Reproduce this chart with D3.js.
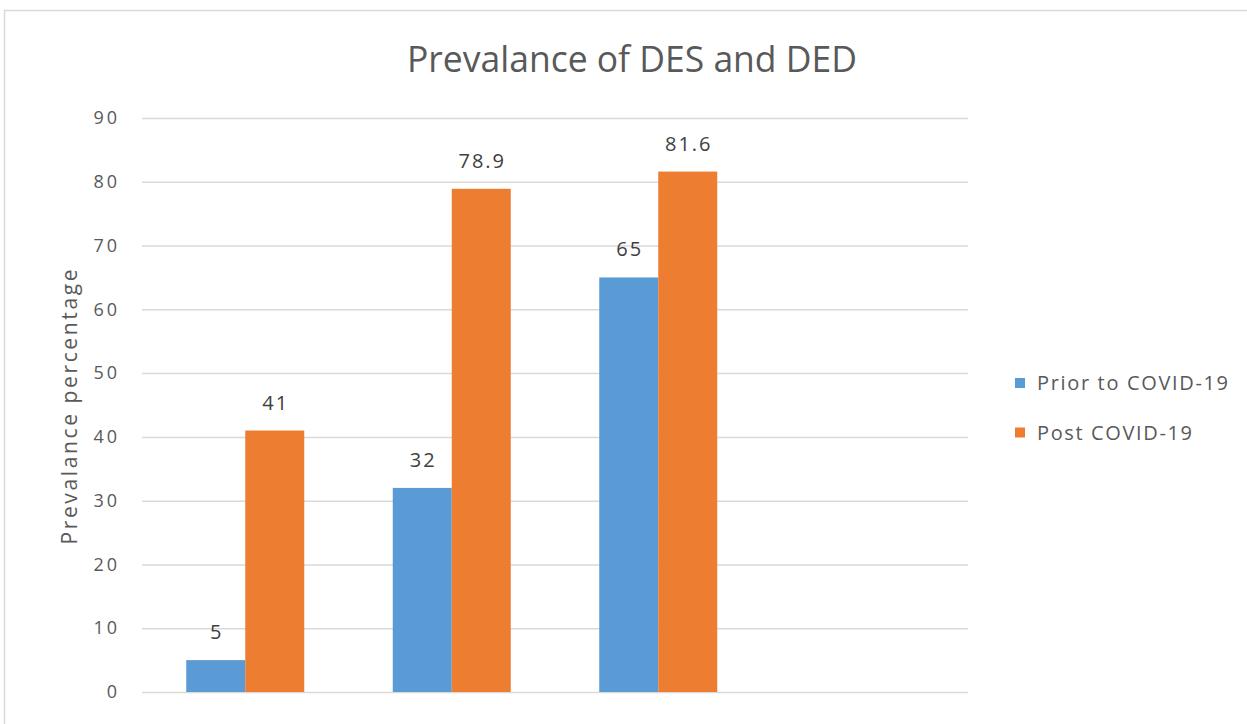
<!DOCTYPE html>
<html>
<head>
<meta charset="utf-8">
<script src="https://cdn.jsdelivr.net/npm/d3@7"></script>
<style>
  body { margin: 0; background: #fff; }
  svg { display: block; }
</style>
</head>
<body>
<svg></svg>
<script>
const categories = ['A', 'B', 'C', 'D'];
const seriesNames = ['Prior to COVID-19', 'Post COVID-19'];
const priorValues = [5, 32, 65, null];
const postValues = [41, 78.9, 81.6, null];
const yTicks = [0, 10, 20, 30, 40, 50, 60, 70, 80, 90];
const colors = ['#5b9bd5', '#ed7d31'];

const width = 1247, height = 724;
const margin = {left: 142, right: 279, top: 118, bottom: 32};
const font = "'Open Sans', 'Liberation Sans', sans-serif";

let svg = d3.select('svg')
  .attr('width', width)
  .attr('height', height);

// chart frame
svg.append('rect')
  .attr('x', 4.5)
  .attr('y', 10.5)
  .attr('width', width + 20)
  .attr('height', height + 20)
  .attr('fill', '#fff')
  .attr('stroke', '#d9d9d9')
  .attr('stroke-width', 1.5);

let x = d3.scaleBand()
  .domain(categories)
  .range([margin.left, width - margin.right]);

let xs = d3.scaleBand()
  .domain(seriesNames)
  .range([0, x.bandwidth()])
  .paddingOuter(0.75);

let y = d3.scaleLinear()
  .domain([0, 90])
  .range([height - margin.bottom, margin.top]);

// gridlines + tick labels
let yAxis = d3.axisLeft(y)
  .tickValues(yTicks)
  .tickSize(-(width - margin.right - margin.left))
  .tickPadding(22);

let gy = svg.append('g')
  .attr('transform', `translate(${margin.left},0)`)
  .call(yAxis);
gy.select('.domain').remove();
gy.selectAll('.tick line')
  .attr('stroke', '#d9d9d9')
  .attr('stroke-width', 1.5);
gy.selectAll('.tick text')
  .attr('fill', '#595959')
  .style('font', `18px ${font}`)
  .style('letter-spacing', '3px');

let table = categories.map((c, i) => ({cat: c, vals: [priorValues[i], postValues[i]]}));

let groups = svg.append('g').selectAll('g')
  .data(table)
  .join('g')
  .attr('transform', d => `translate(${x(d.cat)},0)`);

let bars = groups.selectAll('g')
  .data(d => d.vals.map((v, j) => ({name: seriesNames[j], v: v, j: j})).filter(e => e.v !== null))
  .join('g');

bars.append('rect')
  .attr('x', d => xs(d.name))
  .attr('width', xs.bandwidth())
  .attr('y', d => y(d.v))
  .attr('height', d => y(0) - y(d.v))
  .attr('fill', d => colors[d.j]);

bars.append('text')
  .attr('x', d => xs(d.name) + xs.bandwidth() / 2 + 1)
  .attr('y', d => y(d.v) - 21)
  .attr('text-anchor', 'middle')
  .attr('fill', '#404040')
  .style('font', `20px ${font}`)
  .style('letter-spacing', '2px')
  .text(d => d.v);

// title
svg.append('text')
  .attr('x', 632)
  .attr('y', 72)
  .attr('text-anchor', 'middle')
  .attr('fill', '#595959')
  .attr('textLength', 450)
  .attr('lengthAdjust', 'spacingAndGlyphs')
  .style('font', `37px ${font}`)
  .text('Prevalance of DES and DED');

// y axis title
svg.append('text')
  .attr('transform', 'translate(77,407) rotate(-90)')
  .attr('text-anchor', 'middle')
  .attr('fill', '#595959')
  .attr('textLength', 275)
  .attr('lengthAdjust', 'spacing')
  .style('font', `21px ${font}`)
  .text('Prevalance percentage');

// legend
let legend = svg.append('g')
  .selectAll('g')
  .data(seriesNames)
  .join('g')
  .attr('transform', (d, i) => `translate(1015,${383 + i * 49.5})`);

legend.append('rect')
  .attr('x', 0)
  .attr('y', -5)
  .attr('width', 10)
  .attr('height', 10)
  .attr('fill', (d, i) => colors[i]);

legend.append('text')
  .attr('x', 22)
  .attr('y', 7)
  .attr('fill', '#595959')
  .attr('textLength', (d, i) => [191, 155][i])
  .attr('lengthAdjust', 'spacing')
  .style('font', `20px ${font}`)
  .text(d => d);
</script>
</body>
</html>
